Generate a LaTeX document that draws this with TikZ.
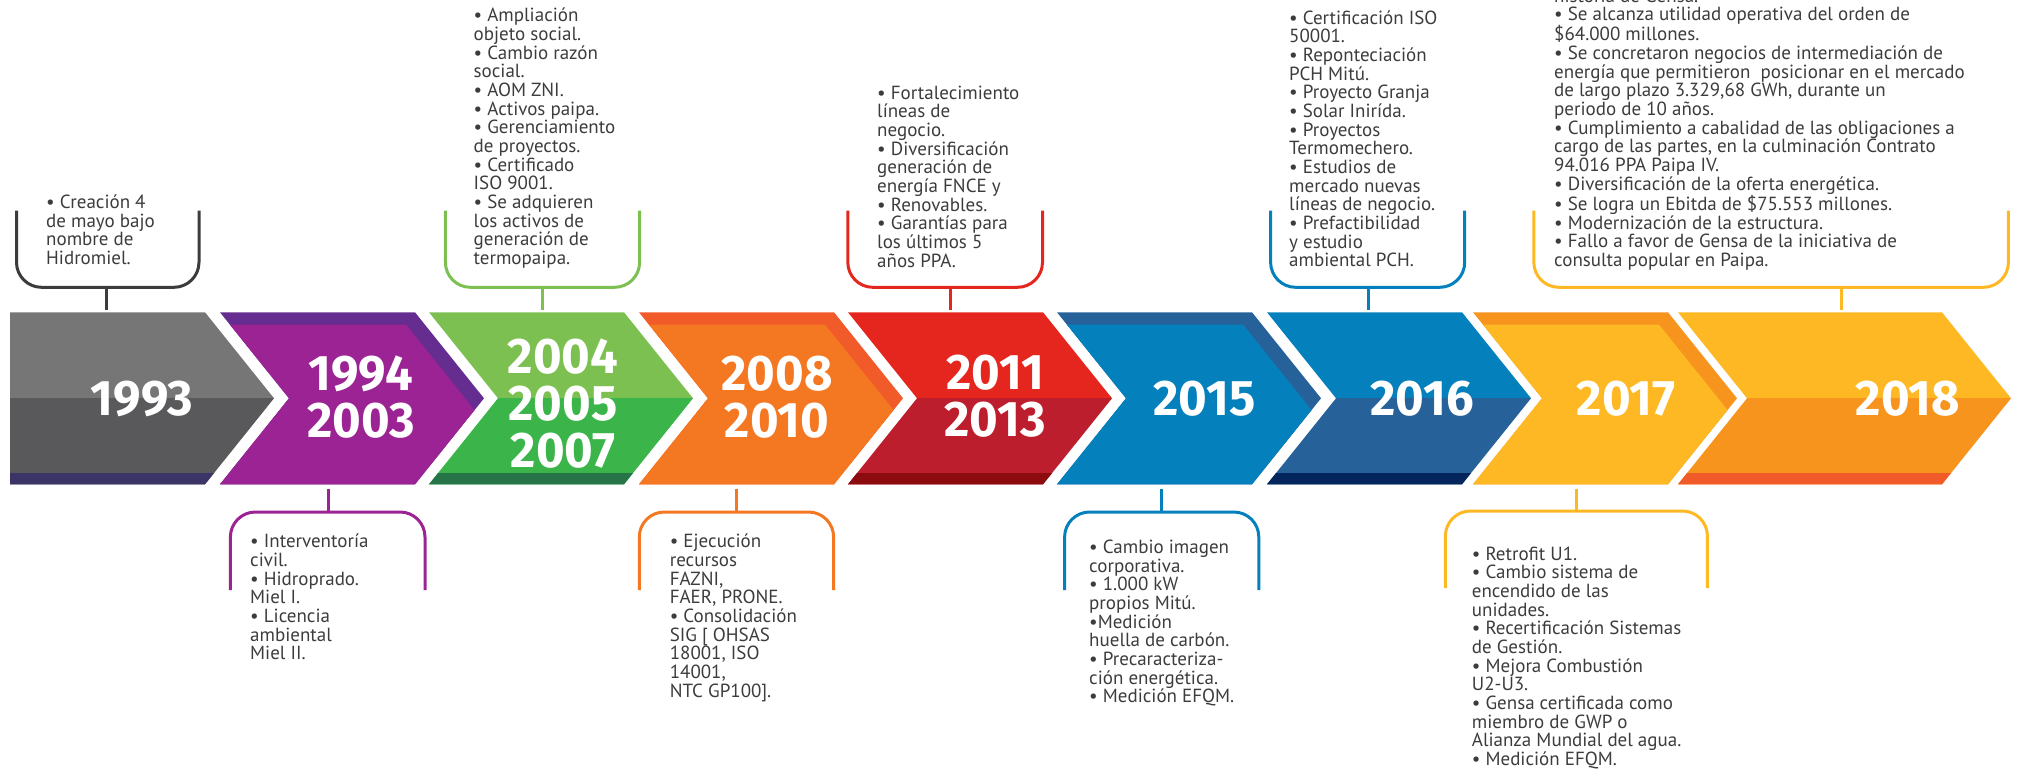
\documentclass[tikz,border=0pt]{standalone}
\usepackage{fontspec}
\setmainfont{PT Sans}
\newfontfamily\yearfont{Fira Sans}[FakeStretch=0.98]
\definecolor{txt}{HTML}{3C3C3B}
\definecolor{grayA}{HTML}{767676}
\definecolor{grayB}{HTML}{59595B}
\definecolor{grayS}{HTML}{3B3467}
\definecolor{purA}{HTML}{9B2393}
\definecolor{purB}{HTML}{662D91}
\definecolor{grnA}{HTML}{7DC052}
\definecolor{grnB}{HTML}{3BB44A}
\definecolor{grnS}{HTML}{287449}
\definecolor{orA}{HTML}{F47722}
\definecolor{orB}{HTML}{F15A29}
\definecolor{redA}{HTML}{E5261E}
\definecolor{redB}{HTML}{BD1E2D}
\definecolor{redS}{HTML}{8C0B0F}
\definecolor{bluA}{HTML}{0480BD}
\definecolor{bluB}{HTML}{27619A}
\definecolor{bluS}{HTML}{04265C}
\definecolor{yelA}{HTML}{FDB823}
\definecolor{yelB}{HTML}{F7941E}
\definecolor{yelS}{HTML}{F15A29}
\definecolor{brkgray}{HTML}{3C3C3B}

% odd chevron: L, TR, top colour, bottom colour, strip colour, notch depth
\newcommand{\oddchev}[6]{%
\begin{scope}
 \clip (#1,312.3) -- (#2,312.3) -- ({#2+69},398.3) -- (#2,484.3) -- (#1,484.3) -- ({#1+#6},398.3) -- cycle;
 \fill[#3] ({#1-2},300) rectangle ({#2+80},398.3);
 \fill[#4] ({#1-2},398.3) rectangle ({#2+80},490);
 \fill[#5] ({#1-2},472.5) rectangle ({#2+80},490);
\end{scope}}
% even chevron: L, TR, main colour, band colour
\newcommand{\evenchev}[4]{%
\begin{scope}
 \clip (#1,312.3) -- (#2,312.3) -- ({#2+69},398.3) -- (#2,484.3) -- (#1,484.3) -- ({#1+69},398.3) -- cycle;
 \fill[#4] ({#1-2},300) rectangle ({#2+80},490);
 \fill[#3] ({#1-2},324.6) -- ({#2-9},324.6) -- ({#2-9+132.7},490) -- ({#1-2},490) -- cycle;
\end{scope}}
\newcommand{\fl}{\rule{0pt}{16pt}}

\begin{document}
\begin{tikzpicture}[x=1pt,y=-1pt,
  year/.style={text=white, font=\yearfont\bfseries\fontsize{50}{47}\selectfont, align=center, inner sep=0pt},
  note/.style={text=txt, font=\fontsize{19}{18.66}\selectfont, align=left, inner sep=0pt, anchor=north west},
  brk/.style={line width=3pt, rounded corners=25pt},
  stem/.style={line width=3pt}]
\useasboundingbox (0,0) rectangle (2026,770);
\clip (0,0) rectangle (2026,770);

% ---------- chevrons ----------
\oddchev{10}{205}{grayA}{grayB}{grayS}{0}
\evenchev{220}{415}{purA}{purB}
\oddchev{429}{624}{grnA}{grnB}{grnS}{69}
\evenchev{639}{834}{orA}{orB}
\oddchev{848}{1043}{redA}{redB}{redS}{69}
\evenchev{1057}{1252}{bluA}{bluB}
\oddchev{1267}{1462}{bluA}{bluB}{bluS}{69}
\evenchev{1473}{1668}{yelA}{yelB}
\oddchev{1678}{1942}{yelA}{yelB}{yelS}{69}

% ---------- years ----------
\node[year] (y1993) at (142,399) {1993};
\node[year] (y1994) at (361,397) {1994\\2003};
\node[year] (y2004) at (563,404) {2004\\2005\\2007};
\node[year] (y2008) at (777,397) {2008\\2010};
\node[year] (y2011) at (995,396) {2011\\2013};
\node[year] (y2015) at (1204.5,398.5) {2015};
\node[year] (y2016) at (1422,398.5) {2016};
\node[year] (y2017) at (1626,398.5) {2017};
\node[year] (y2018) at (1908,398.3) {2018};

% ---------- top brackets ----------
\draw[brk,brkgray] (16.5,210.7) -- (16.5,287.3) -- (199,287.3) -- (199,210.7);
\coordinate (a1) at (106,287.3); \coordinate (b1) at (106,309.5);
\draw[stem,brkgray] (a1) -- (b1);

\draw[brk,grnA] (445.4,210.7) -- (445.4,287.3) -- (639.6,287.3) -- (639.6,210.7);
\coordinate (a2) at (542,287.3); \coordinate (b2) at (542,309.5);
\draw[stem,grnA] (a2) -- (b2);

\draw[brk,redA] (847.8,210.7) -- (847.8,287.3) -- (1042.5,287.3) -- (1042.5,210.7);
\coordinate (a3) at (950,287.3); \coordinate (b3) at (950,309.5);
\draw[stem,redA] (a3) -- (b3);

\draw[brk,bluA] (1270.6,210.7) -- (1270.6,287.3) -- (1464.7,287.3) -- (1464.7,210.7);
\coordinate (a4) at (1368,287.3); \coordinate (b4) at (1368,309.5);
\draw[stem,bluA] (a4) -- (b4);

\draw[brk,yelA] (1533.8,210.7) -- (1533.8,287.3) -- (2008.4,287.3) -- (2008.4,210.7);
\coordinate (a5) at (1841,287.3); \coordinate (b5) at (1841,309.5);
\draw[stem,yelA] (a5) -- (b5);

% ---------- bottom brackets ----------
\draw[brk,purA] (230.4,590) -- (230.4,512) -- (425,512) -- (425,590);
\coordinate (c1) at (328,489); \coordinate (d1) at (328,512);
\draw[stem,purA] (c1) -- (d1);

\draw[brk,orA] (639.3,590) -- (639.3,512) -- (833.6,512) -- (833.6,590);
\coordinate (c2) at (736.4,489); \coordinate (d2) at (736.4,512);
\draw[stem,orA] (c2) -- (d2);

\draw[brk,bluA] (1064.6,590) -- (1064.6,512) -- (1258.8,512) -- (1258.8,590);
\coordinate (c3) at (1161.5,489); \coordinate (d3) at (1161.5,512);
\draw[stem,bluA] (c3) -- (d3);

\draw[brk,yelA] (1445.4,588) -- (1445.4,511) -- (1707.4,511) -- (1707.4,588);
\coordinate (c4) at (1576,489); \coordinate (d4) at (1576,511);
\draw[stem,yelA] (c4) -- (d4);

% ---------- texts ----------
\node[note] (t1993) at (46,{208.3-16}) {\fl• Creación 4\\de mayo bajo\\nombre de\\Hidromiel.};
\node[note] (t2004) at (473.5,{21.7-16}) {\fl• Ampliación\\objeto social.\\• Cambio razón\\social.\\• AOM ZNI.\\• Activos paipa.\\• Gerenciamiento\\de proyectos.\\• Certificado\\ISO 9001.\\• Se adquieren\\los activos de\\generación de\\termopaipa.};
\node[note] (t2011) at (877,{99-16}) {\fl• Fortalecimiento\\líneas de\\negocio.\\• Diversificación\\generación de\\energía FNCE y\\• Renovables.\\• Garantías para\\los últimos 5\\años PPA.};
\node[note] (t2016) at (1289,{24-16}) {\fl• Certificación ISO\\50001.\\• Reponteciación\\PCH Mitú.\\• Proyecto Granja\\• Solar Inirída.\\• Proyectos\\Termomechero.\\• Estudios de\\mercado nuevas\\líneas de negocio.\\• Prefactibilidad\\y estudio\\ambiental PCH.};
\node[note] (t2018) at (1554,{2-16}) {\fl historia de Gensa.\\• Se alcanza utilidad operativa del orden de\\\$64.000 millones.\\• Se concretaron negocios de intermediación de\\energía que permitieron\ \ posicionar en el mercado\\de largo plazo 3.329,68 GWh, durante un\\periodo de 10 años.\\• Cumplimiento a cabalidad de las obligaciones a\\cargo de las partes, en la culminación Contrato\\94.016 PPA Paipa IV.\\• Diversificación de la oferta energética.\\• Se logra un Ebitda de \$75.553 millones.\\• Modernización de la estructura.\\• Fallo a favor de Gensa de la iniciativa de\\consulta popular en Paipa.};

\node[note] (t1994) at (250,{547.7-16}) {\fl• Interventoría\\civil.\\• Hidroprado.\\Miel I.\\• Licencia\\ambiental\\Miel II.};
\node[note] (t2008) at (669.6,{547.7-16}) {\fl• Ejecución\\recursos\\FAZNI,\\FAER, PRONE.\\• Consolidación\\SIG [ OHSAS\\18001, ISO\\14001,\\NTC GP100].};
\node[note] (t2015) at (1089,{553.3-16}) {\fl• Cambio imagen\\corporativa.\\• 1.000 kW\\propios Mitú.\\•Medición\\huella de carbón.\\• Precaracteriza-\\ción energética.\\• Medición EFQM.};
\node[note] (t2017) at (1471.7,{560-16}) {\fl• Retrofit U1.\\• Cambio sistema de\\encendido de las\\unidades.\\• Recertificación Sistemas\\de Gestión.\\• Mejora Combustión\\U2-U3.\\• Gensa certificada como\\miembro de GWP o\\Alianza Mundial del agua.\\• Medición EFQM.};
\end{tikzpicture}
\end{document}
